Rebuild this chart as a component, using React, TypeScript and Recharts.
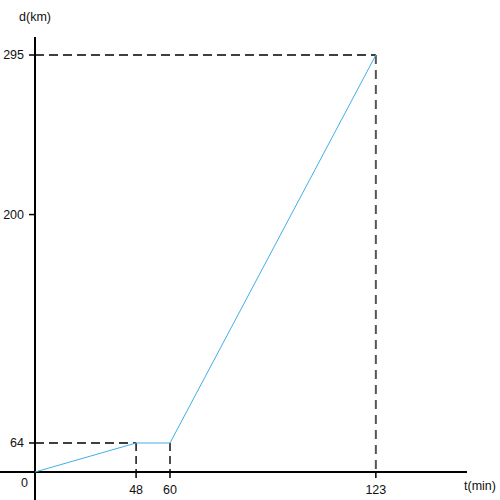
import React from 'react';
import { LineChart, Line, XAxis, YAxis, ReferenceLine } from 'recharts';

// minutes after departure -> km covered
const TIME_MIN = [0, 48, 60, 123];
const DIST_KM = [0, 64, 64, 295];

const X_TICKS = [48, 60, 123];
const Y_TICKS = [0, 64, 200, 295];

const T_MAX = 145;
const D_MAX = 305;

// the figure is a sketch, axes are not to scale: value -> share of the axis length
const X_STOPS: [number, number][] = [[0, 0], [48, 0.234], [60, 0.3125], [123, 0.789], [T_MAX, 1]];
const Y_STOPS: [number, number][] = [[0, 0], [64, 0.0667], [295, 0.9586], [D_MAX, 1]];

// axis lines run a little past the origin
const X_AXIS_FROM = -17;
const Y_AXIS_FROM = -62;

const FONT = '"Liberation Sans", Arial, sans-serif';
const LINE_COLOR = '#42aee8';

function sketchScale(stops: [number, number][]): any {
  let dom: any[] = [stops[0][0], stops[stops.length - 1][0]];
  let rng: any[] = [0, 1];
  const frac = (v: number) => {
    let i = 0;
    while (i < stops.length - 2 && v > stops[i + 1][0]) i++;
    const [a0, f0] = stops[i];
    const [a1, f1] = stops[i + 1];
    return f0 + ((v - a0) / (a1 - a0)) * (f1 - f0);
  };
  const scale: any = (v: any) => rng[0] + frac(Number(v)) * (rng[rng.length - 1] - rng[0]);
  scale.domain = (d?: any[]) => {
    if (!d) return dom.slice();
    dom = d.slice();
    return scale;
  };
  scale.range = (r?: any[]) => {
    if (!r) return rng.slice();
    rng = r.slice();
    return scale;
  };
  scale.copy = () => sketchScale(stops).domain(dom).range(rng);
  scale.ticks = () => stops.map((s) => s[0]);
  return scale;
}

const xScale = sketchScale(X_STOPS);
const yScale = sketchScale(Y_STOPS);

const data = TIME_MIN.map((t, i) => ({ t, d: DIST_KM[i] }));

const YTick = ({ x, y, payload }: any) => {
  const origin = payload.value === 0;
  return (
    <text
      x={x + (origin ? 4 : 0)}
      y={y + (origin ? 10.5 : 0)}
      dy="0.355em"
      textAnchor="end"
      fill="#111"
      fontSize={12.5}
      fontFamily={FONT}
    >
      {payload.value}
    </text>
  );
};

const App: React.FC = () => {
  const last = TIME_MIN.length - 1;
  const hGuides = [1, last].map((i) => [
    { x: 0, y: DIST_KM[i] },
    { x: TIME_MIN[i], y: DIST_KM[i] },
  ]);
  const vGuides = [1, 2, last].map((i) => ({
    i,
    seg: [
      { x: TIME_MIN[i], y: DIST_KM[i] },
      { x: TIME_MIN[i], y: 0 },
    ],
  }));

  return (
    <div style={{ position: 'absolute', left: 0, top: 0, width: 500, height: 500, fontFamily: FONT }}>
      <LineChart width={500} height={500} data={data} margin={{ top: 37, right: 33, bottom: 0, left: 0 }}>
        <XAxis
          dataKey="t"
          type="number"
          domain={[0, T_MAX]}
          scale={xScale}
          ticks={X_TICKS}
          interval={0}
          height={28}
          axisLine={false}
          tickLine={{ stroke: '#000', strokeWidth: 1.5 }}
          tickSize={6}
          tickMargin={7}
          tick={{ fill: '#111', fontSize: 12.5, fontFamily: FONT }}
          label={{ value: 't(min)', position: 'right', offset: -3, fill: '#111', fontSize: 12.5, fontFamily: FONT }}
        />
        <YAxis
          type="number"
          domain={[0, D_MAX]}
          scale={yScale}
          ticks={Y_TICKS}
          interval={0}
          width={35}
          axisLine={false}
          tickLine={{ stroke: '#000', strokeWidth: 1.5 }}
          tickSize={6}
          tickMargin={5}
          tick={<YTick />}
        />
        {/* axes through the origin */}
        <ReferenceLine
          segment={[{ x: X_AXIS_FROM, y: 0 }, { x: T_MAX, y: 0 }]}
          stroke="#000"
          strokeWidth={2}
          ifOverflow="visible"
        />
        <ReferenceLine
          segment={[{ x: 0, y: Y_AXIS_FROM }, { x: 0, y: D_MAX }]}
          stroke="#000"
          strokeWidth={2}
          ifOverflow="visible"
          label={{ value: 'd(km)', position: 'top', offset: 16, fill: '#111', fontSize: 12.5, fontFamily: FONT }}
        />
        {hGuides.map((seg, k) => (
          <ReferenceLine
            key={`h-${k}`}
            segment={seg}
            stroke="#000"
            strokeWidth={1.3}
            strokeDasharray="9 5"
            ifOverflow="visible"
          />
        ))}
        {vGuides.map(({ i, seg }) => (
          <ReferenceLine
            key={`v-${i}`}
            segment={seg}
            stroke={i === last ? '#555' : '#000'}
            strokeWidth={i === last ? 2 : 1.4}
            strokeDasharray={i === last ? '9 6' : '8 5'}
            ifOverflow="visible"
          />
        ))}
        <Line
          type="linear"
          dataKey="d"
          stroke={LINE_COLOR}
          strokeWidth={1}
          dot={false}
          activeDot={false}
          isAnimationActive={false}
        />
      </LineChart>
    </div>
  );
};

export default App;
